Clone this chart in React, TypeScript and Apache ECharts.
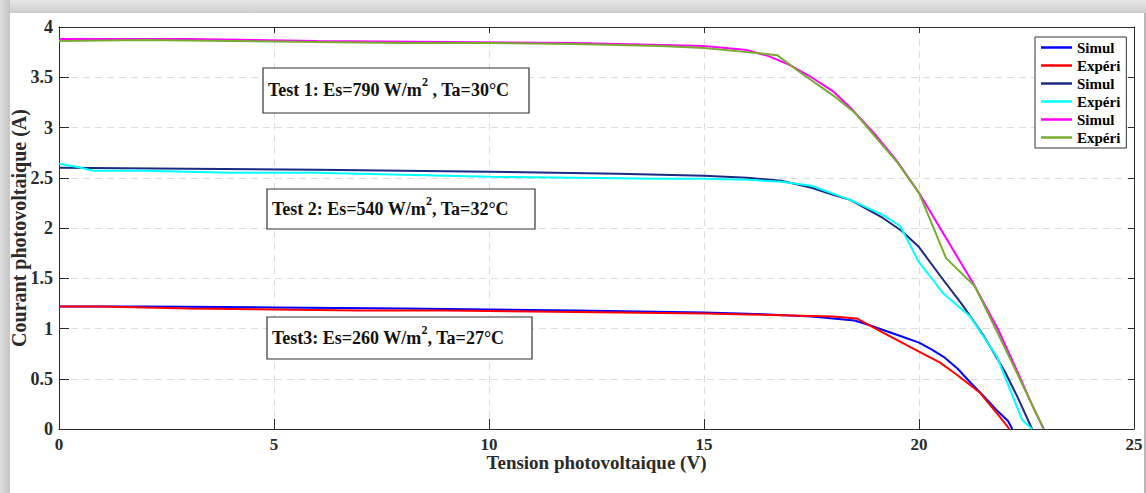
import React, { useEffect, useRef } from "react";
import * as echarts from "echarts";

// ---- Data (Voltage in V, Current in A) ----
const xTicks = [0, 5, 10, 15, 20, 25];
const yTicks = [0, 0.5, 1, 1.5, 2, 2.5, 3, 3.5, 4];

// Test 3 : Es=260 W/m2
const simul3X = [0, 2, 5, 8, 10, 12, 15, 16.5, 17.5, 18.5, 18.8, 19.2, 19.6, 20, 20.3, 20.6, 20.9, 21.2, 21.5, 21.8, 22.07, 22.17];
const simul3Y = [1.22, 1.22, 1.21, 1.2, 1.19, 1.18, 1.16, 1.14, 1.12, 1.08, 1.04, 0.98, 0.92, 0.86, 0.79, 0.71, 0.6, 0.46, 0.33, 0.19, 0.08, 0];
const expe3X = [0, 1, 3, 5, 7, 9, 11, 13, 15, 16, 17, 18, 18.55, 19.25, 20, 20.49, 20.88, 21.42, 21.88, 22.1];
const expe3Y = [1.22, 1.22, 1.2, 1.19, 1.18, 1.18, 1.17, 1.16, 1.15, 1.14, 1.13, 1.12, 1.1, 0.94, 0.77, 0.66, 0.54, 0.36, 0.12, 0];

// Test 2 : Es=540 W/m2
const simul2X = [0, 3, 6, 10, 13, 15, 16, 16.8, 17.5, 18, 18.4, 19.16, 19.6, 20, 20.5, 21, 21.5, 22, 22.3, 22.63];
const simul2Y = [2.6, 2.59, 2.58, 2.56, 2.54, 2.52, 2.5, 2.47, 2.4, 2.33, 2.28, 2.1, 1.97, 1.81, 1.52, 1.24, 0.93, 0.57, 0.31, 0];
const expe2X = [0, 0.4, 0.8, 2, 4, 6, 8, 10, 12, 14, 15, 16, 16.8, 17.5, 18.4, 19.16, 19.56, 20.0, 20.33, 20.56, 21.19, 21.81, 22.12, 22.4, 22.63];
const expe2Y = [2.64, 2.61, 2.57, 2.57, 2.55, 2.55, 2.53, 2.51, 2.5, 2.49, 2.49, 2.48, 2.46, 2.42, 2.28, 2.13, 2.02, 1.66, 1.48, 1.35, 1.12, 0.72, 0.39, 0.09, 0];

// Test 1 : Es=790 W/m2
const simul1X = [0, 3, 6, 9, 12, 15, 16, 16.5, 17, 17.5, 18, 18.4, 19, 19.48, 20, 20.6, 21.26, 21.84, 22.3, 22.65, 22.9];
const simul1Y = [3.88, 3.88, 3.86, 3.85, 3.84, 3.81, 3.77, 3.71, 3.62, 3.5, 3.36, 3.2, 2.92, 2.67, 2.35, 1.92, 1.45, 0.99, 0.56, 0.22, 0];
const expe1X = [0, 2, 4, 6, 8, 10, 12, 14, 15, 16, 16.7, 17.2, 18.0, 18.5, 19.0, 19.5, 20.0, 20.63, 21.3, 22.05, 22.9];
const expe1Y = [3.86, 3.87, 3.86, 3.85, 3.84, 3.84, 3.83, 3.81, 3.79, 3.75, 3.72, 3.56, 3.32, 3.15, 2.9, 2.65, 2.35, 1.7, 1.42, 0.76, 0];

const seriesNames = ["Simul|3", "Expéri|3", "Simul|2", "Expéri|2", "Simul|1", "Expéri|1"];
const seriesColors = ["#0000ff", "#ff0000", "#1b2a85", "#00ffff", "#ff00ff", "#77ac30"];
const seriesX = [simul3X, expe3X, simul2X, expe2X, simul1X, expe1X];
const seriesY = [simul3Y, expe3Y, simul2Y, expe2Y, simul1Y, expe1Y];

const annotations = [
  { pre: "Test 1: Es=790 W/m", post: " , Ta=30°C" },
  { pre: "Test 2: Es=540 W/m", post: ", Ta=32°C" },
  { pre: "Test3: Es=260 W/m", post: ", Ta=27°C" },
];

const FONT = "'Liberation Serif', 'Times New Roman', serif";

export default function App() {
  const ref = useRef<HTMLDivElement>(null);

  useEffect(() => {
    document.body.style.margin = "0";
    const chart = echarts.init(ref.current!, undefined, { renderer: "svg" });

    const boxes = [
      { x: 263, y: 68, w: 266, h: 45 },
      { x: 267, y: 189, w: 268, h: 40 },
      { x: 267, y: 317, w: 265, h: 42 },
    ];

    const graphic: any[] = [
      {
        type: "rect",
        shape: { x: 0, y: 0, width: 1146, height: 13 },
        style: {
          fill: new echarts.graphic.LinearGradient(0, 0, 0, 1, [
            { offset: 0, color: "#e6e6e6" },
            { offset: 1, color: "#cdcdcd" },
          ]),
        },
        silent: true,
      },
      {
        type: "rect",
        shape: { x: 0, y: 0, width: 10, height: 493 },
        style: {
          fill: new echarts.graphic.LinearGradient(0, 0, 1, 0, [
            { offset: 0, color: "#dedede" },
            { offset: 1, color: "#c4c4c4" },
          ]),
        },
        silent: true,
      },
      {
        type: "rect",
        shape: { x: 1144, y: 13, width: 2, height: 480 },
        style: { fill: "#b8b8b8" },
        silent: true,
      },
    ];

    annotations.forEach((a, i) => {
      const b = boxes[i];
      graphic.push({
        type: "rect",
        shape: { x: b.x, y: b.y, width: b.w, height: b.h },
        style: { fill: "#ffffff", stroke: "#333333", lineWidth: 1.2 },
        z: 50,
      });
      graphic.push({
        type: "text",
        x: b.x + 5,
        y: b.y + b.h / 2 - 3,
        z: 51,
        style: {
          text: `{m|${a.pre}}{s|2}{m|${a.post}}`,
          verticalAlign: "middle",
          align: "left",
          rich: {
            m: { fontFamily: FONT, fontWeight: "bold", fontSize: 18, lineHeight: 23, fill: "#111", verticalAlign: "bottom" },
            s: { fontFamily: FONT, fontWeight: "bold", fontSize: 12, lineHeight: 12, fill: "#111", verticalAlign: "top" },
          },
        },
      });
    });

    const axisColor = "#2a2a2a";

    chart.setOption({
      animation: false,
      backgroundColor: "#ffffff",
      grid: { left: 59, right: 12, top: 27, bottom: 64, outerBoundsMode: "none", containLabel: false },
      legend: {
        orient: "vertical",
        left: 1035,
        top: 37,
        data: seriesNames,
        formatter: (n: string) => n.split("|")[0],
        icon: "rect",
        itemWidth: 31,
        itemHeight: 2.5,
        itemGap: 3,
        padding: [3, 6, 3, 6],
        borderColor: "#333",
        borderWidth: 1,
        backgroundColor: "#fff",
        textStyle: { fontFamily: FONT, fontWeight: "bold", fontSize: 15, lineHeight: 14, color: "#000" },
        selectedMode: false,
      },
      xAxis: [
        {
          type: "value",
          min: xTicks[0],
          max: xTicks[xTicks.length - 1],
          interval: 5,
          position: "bottom",
          axisLine: { show: true, onZero: false, lineStyle: { color: axisColor, width: 1 } },
          axisTick: { show: true, inside: true, length: 10, lineStyle: { color: axisColor } },
          axisLabel: { fontFamily: FONT, fontWeight: "bold", fontSize: 17, color: axisColor, margin: 7 },
          splitLine: { show: true, lineStyle: { type: [7, 5], color: "#dcdcdc" } },
          name: "Tension photovoltaique (V)",
          nameLocation: "middle",
          nameGap: 24,
          nameMoveOverlap: false,
          nameTextStyle: { fontFamily: FONT, fontWeight: "bold", fontSize: 19, color: axisColor, verticalAlign: "top" },
        },
        {
          type: "value",
          min: xTicks[0],
          max: xTicks[xTicks.length - 1],
          interval: 5,
          position: "top",
          axisLine: { show: true, onZero: false, lineStyle: { color: axisColor, width: 1 } },
          axisTick: { show: true, inside: true, length: 6, lineStyle: { color: axisColor } },
          axisLabel: { show: false },
          splitLine: { show: false },
        },
      ],
      yAxis: [
        {
          type: "value",
          min: yTicks[0],
          max: yTicks[yTicks.length - 1],
          interval: 0.5,
          position: "left",
          axisLine: { show: true, onZero: false, lineStyle: { color: axisColor, width: 1 } },
          axisTick: { show: true, inside: true, length: 10, lineStyle: { color: axisColor } },
          axisLabel: { fontFamily: FONT, fontWeight: "bold", fontSize: 18, color: axisColor, margin: 6 },
          splitLine: { show: true, lineStyle: { type: [7, 5], color: "#dcdcdc" } },
          name: "Courant photovoltaique (A)",
          nameLocation: "middle",
          nameGap: 30,
          nameMoveOverlap: false,
          nameTextStyle: { fontFamily: FONT, fontWeight: "bold", fontSize: 20, color: axisColor },
        },
        {
          type: "value",
          min: yTicks[0],
          max: yTicks[yTicks.length - 1],
          interval: 0.5,
          position: "right",
          axisLine: { show: true, onZero: false, lineStyle: { color: axisColor, width: 1 } },
          axisTick: { show: true, inside: true, length: 6, lineStyle: { color: axisColor } },
          axisLabel: { show: false },
          splitLine: { show: false },
        },
      ],
      series: seriesNames.map((name, i) => ({
        name,
        type: "line",
        xAxisIndex: 0,
        yAxisIndex: 0,
        symbol: "none",
        showSymbol: false,
        color: seriesColors[i],
        lineStyle: { color: seriesColors[i], width: 2 },
        data: seriesX[i].map((x, j) => [x, seriesY[i][j]]),
        z: 3 + i,
      })),
      graphic,
    });

    return () => chart.dispose();
  }, []);

  return (
    <div
      ref={ref}
      style={{ position: "fixed", left: 0, top: 0, width: 1146, height: 493 }}
    />
  );
}
